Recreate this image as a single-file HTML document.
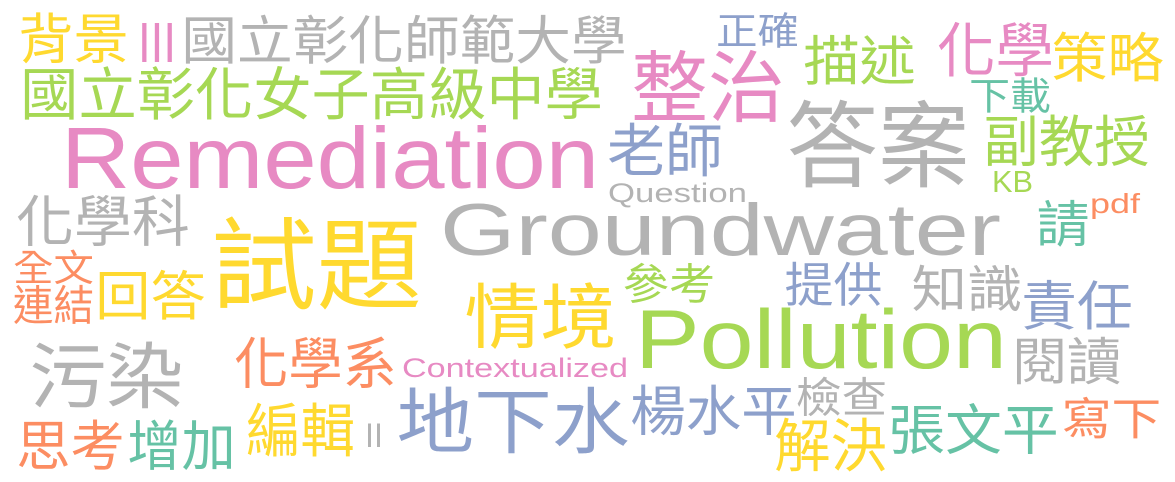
<!DOCTYPE html>
<html><head><meta charset="utf-8"><style>
html,body{margin:0;padding:0;background:#fff;}
svg{display:block;}
text{font-family:"Liberation Sans","Noto Sans CJK TC",sans-serif;}
</style></head><body>
<svg id="cloud" width="1175" height="482" viewBox="0 0 1175 482" xmlns="http://www.w3.org/2000/svg">
<rect width="1175" height="482" fill="#ffffff"/>
</svg>
<script>
const G="#b3b3b3",P="#e78ac3",GR="#a6d854",Y="#ffd92f",B="#8da0cb",T="#66c2a5",O="#fc8d62";
// [text, color, left, top, right, bottom, kind] ; kind c = CJK ink box, l = latin (top=cap top, bottom=baseline)
const words=[
["背景",Y,21,13,126,62,"c"],
["III",P,138,21,176,62,"l"],
["國立彰化師範大學",G,184,15,624,62,"c"],
["國立彰化女子高級中學",GR,23,67,600,118,"c"],
["Remediation",P,61,125,599,188,"l"],
["化學科",G,19,195,187,245,"c"],
["試題",Y,216,217,417,307,"c"],
["Groundwater",G,440,202,1001,255,"l"],
["正確",B,718,13,797,47,"c"],
["整治",P,635,50,781,120,"c"],
["描述",GR,806,35,913,83,"c"],
["化學",P,940,22,1051,75,"c"],
["策略",Y,1054,32,1161,80,"c"],
["下載",T,971,78,1049,112,"c"],
["老師",B,610,123,720,175,"c"],
["答案",G,791,100,965,185,"c"],
["副教授",GR,986,115,1147,165,"c"],
["KB",GR,992,170,1033,192,"l"],
["Question",G,608,183,747,202,"l"],
["請",T,1039,200,1087,245,"c"],
["pdf",O,1090,193,1140,213,"l"],
["全文",O,15,250,92,283,"c"],
["連結",O,15,285,92,323,"c"],
["回答",Y,98,270,203,318,"c"],
["情境",Y,468,283,613,347,"c"],
["參考",GR,625,263,713,302,"c"],
["提供",B,787,262,880,305,"c"],
["知識",G,914,265,1020,310,"c"],
["責任",B,1024,280,1130,328,"c"],
["Pollution",GR,635,308,1007,368,"l"],
["閱讀",G,1015,337,1119,383,"c"],
["化學系",O,237,337,394,387,"c"],
["污染",G,33,342,180,407,"c"],
["Contextualized",P,402,358,628,377,"l"],
["思考",O,19,420,122,469,"c"],
["增加",T,130,420,233,469,"c"],
["編輯",Y,249,403,352,455,"c"],
["II",G,365,422,383,447,"l"],
["地下水",B,400,387,626,452,"c"],
["楊水平",B,633,385,794,434,"c"],
["檢查",G,798,377,885,415,"c"],
["張文平",T,891,404,1056,453,"c"],
["寫下",O,1064,397,1159,437,"c"],
["解決",Y,777,418,884,470,"c"]
];
const svg=document.getElementById('cloud');
const NS="http://www.w3.org/2000/svg";
for(const w of words){
  const [txt,col,L,Tp,R,Bt,k]=w;
  const t=document.createElementNS(NS,'text');
  let s,x,y,len;
  if(k==="c"){
    s=(Bt-Tp)/0.9; y=Bt-0.06*s; x=L-0.05*s; len=(R-L)+0.1*s;
  } else {
    s=(Bt-Tp)/0.72; y=Bt; x=L; len=R-L;
  }
  t.setAttribute('x',x.toFixed(1));
  t.setAttribute('y',y.toFixed(1));
  t.setAttribute('font-size',s.toFixed(1));
  t.setAttribute('fill',col);
  t.setAttribute('textLength',len.toFixed(1));
  t.setAttribute('lengthAdjust','spacingAndGlyphs');
  t.textContent=txt;
  
  
  svg.appendChild(t);
}
</script>
</body></html>
